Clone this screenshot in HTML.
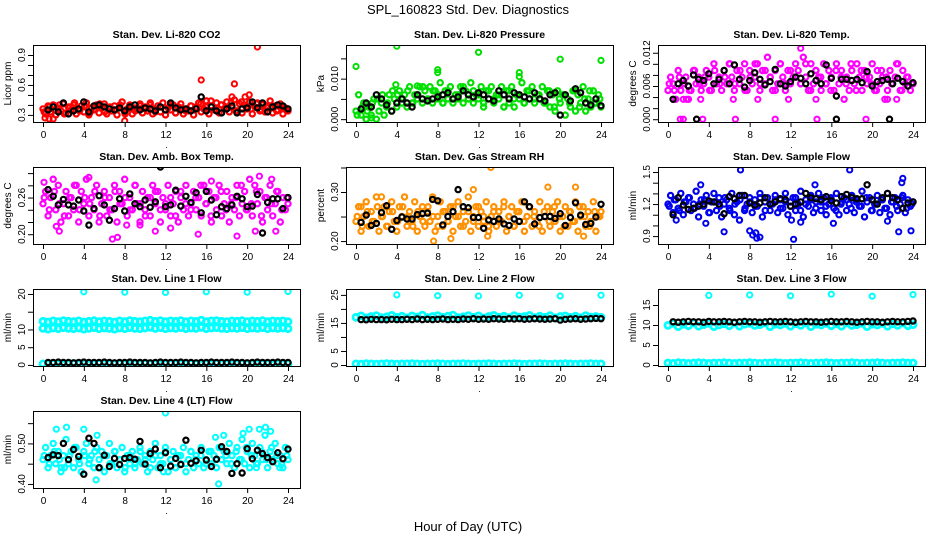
<!DOCTYPE html>
<html><head><meta charset="utf-8"><title>SPL_160823 Std. Dev. Diagnostics</title>
<style>
html,body{margin:0;padding:0;background:#fff;}
svg{display:block;font-family:"Liberation Sans",Arial,sans-serif;}
</style></head>
<body>
<svg id="chart" width="936" height="540" viewBox="0 0 936 540" xmlns="http://www.w3.org/2000/svg">
<text x="468" y="14" text-anchor="middle" font-size="13">SPL_160823  Std. Dev. Diagnostics</text>
<text x="468" y="531" text-anchor="middle" font-size="13">Hour of Day (UTC)</text>
</svg>
<script>
// ---------- data ----------
const xTicks = [0,4,8,12,16,20,24];

const co2Main = [0.36,0.31,0.39,0.33,0.40,0.30,0.37,0.34,0.41,0.32,0.38,0.35,0.40,0.31,0.36,0.39,0.33,0.42,0.30,0.37,0.35,0.40,0.32,0.38,0.41,0.31,0.36,0.34,0.39,0.30,0.38,0.43,0.33,0.36,0.40,0.31,0.37,0.35,0.41,0.32,0.38,0.34,0.40,0.31,0.36,0.39,0.33,0.42,0.30,0.37,0.35,0.40,0.32,0.38,0.41,0.31,0.36,0.34,0.39,0.30,0.38,0.42,0.33,0.36,0.44,0.31,0.39,0.35,0.42,0.32,0.40,0.36,0.43,0.33,0.38,0.45,0.34,0.41,0.32,0.40,0.36,0.43,0.31,0.38,0.42,0.34,0.40,0.33,0.37,0.44,0.32,0.39,0.35,0.41,0.31,0.37,0.34];
const co2Main2 = [0.33,0.38,0.35,0.40,0.31,0.37,0.42,0.34,0.39,0.32,0.36,0.41,0.33,0.38,0.35,0.40,0.31,0.37,0.34,0.39,0.36,0.42,0.33,0.38,0.35,0.40,0.32,0.37,0.34,0.39,0.36,0.41,0.38,0.44,0.35,0.40,0.37,0.42,0.34,0.43,0.38,0.36,0.41,0.35,0.39,0.37,0.34,0.38,0.36];
const co2OutHours = [0.2,0.6,1.0,8.0,15.5,18.5,18.75,20.2,21.0,19.8,16.0];
const co2OutValues = [0.27,0.26,0.26,0.24,0.65,0.48,0.61,0.50,0.98,0.48,0.44];
const co2Black = [0.35,0.38,0.33,0.42,0.31,0.34,0.36,0.43,0.33,0.39,0.40,0.38,0.36,0.35,0.37,0.34,0.38,0.40,0.35,0.37,0.36,0.34,0.38,0.35,0.42,0.37,0.35,0.36,0.34,0.36,0.48,0.34,0.38,0.34,0.32,0.36,0.39,0.32,0.36,0.37,0.43,0.37,0.42,0.33,0.38,0.40,0.39,0.36];

const presMain = [0.002,0.006,0.001,0.004,0.000,0.003,0.001,0.005,0.000,0.002,0.004,0.001,0.003,0.006,0.002,0.005,0.003,0.007,0.004,0.006,0.003,0.008,0.004,0.006,0.005,0.008,0.004,0.007,0.005,0.008,0.004,0.007,0.005,0.009,0.004,0.007,0.005,0.008,0.004,0.006,0.005,0.008,0.004,0.007,0.005,0.009,0.004,0.006,0.005,0.008,0.003,0.007,0.005,0.008,0.004,0.006,0.005,0.008,0.003,0.007,0.004,0.008,0.003,0.006,0.005,0.009,0.004,0.007,0.005,0.008,0.004,0.006,0.005,0.008,0.004,0.007,0.003,0.006,0.002,0.007,0.004,0.006,0.001,0.005,0.003,0.007,0.002,0.006,0.004,0.008,0.002,0.005,0.003,0.007,0.004,0.006,0.003];
const presMain2 = [0.001,0.003,0.002,0.004,0.005,0.006,0.004,0.007,0.006,0.005,0.007,0.004,0.006,0.008,0.005,0.007,0.006,0.004,0.007,0.005,0.006,0.008,0.005,0.007,0.006,0.004,0.007,0.005,0.006,0.003,0.007,0.005,0.006,0.004,0.007,0.005,0.006,0.004,0.007,0.003,0.005,0.006,0.004,0.007,0.003,0.005,0.007,0.004,0.005];
const presOutHours = [0,4,8,8,12,16,16,20,24,3.9,6,1.0,1.5];
const presOutValues = [0.013,0.018,0.0115,0.0122,0.0165,0.0105,0.0115,0.0148,0.0145,0.0085,0.0082,0.0000,0.0003];
const presBlack = [0.0025,0.004,0.003,0.006,0.005,0.0035,0.002,0.004,0.005,0.004,0.003,0.006,0.005,0.0045,0.005,0.0055,0.006,0.0065,0.005,0.0055,0.007,0.006,0.0055,0.0065,0.006,0.005,0.0045,0.007,0.006,0.005,0.0065,0.006,0.0055,0.005,0.0065,0.005,0.0045,0.006,0.0065,0.001,0.006,0.0045,0.0075,0.0065,0.004,0.0035,0.005,0.0033];

const tempMain = [0.0052,0.0076,0.0064,0.0036,0.0088,0.0052,0.0064,0.0076,0.0036,0.0052,0.0088,0.0064,0.0076,0.0052,0.0064,0.0088,0.0076,0.0052,0.0100,0.0064,0.0076,0.0052,0.0088,0.0064,0.0100,0.0076,0.0052,0.0088,0.0064,0.0076,0.0100,0.0052,0.0088,0.0064,0.0076,0.0100,0.0052,0.0088,0.0064,0.0112,0.0076,0.0052,0.0088,0.0064,0.0100,0.0076,0.0052,0.0088,0.0064,0.0076,0.0100,0.0088,0.0064,0.0112,0.0076,0.0052,0.0100,0.0064,0.0088,0.0076,0.0052,0.0100,0.0064,0.0088,0.0076,0.0052,0.0100,0.0064,0.0088,0.0036,0.0076,0.0052,0.0088,0.0064,0.0100,0.0076,0.0052,0.0088,0.0064,0.0076,0.0100,0.0052,0.0088,0.0064,0.0076,0.0036,0.0052,0.0088,0.0064,0.0076,0.0100,0.0052,0.0088,0.0064,0.0076,0.0052,0.0064];
const tempMain2 = [0.0064,0.0052,0.0076,0.0064,0.0052,0.0088,0.0064,0.0076,0.0052,0.0088,0.0064,0.0076,0.0100,0.0064,0.0088,0.0052,0.0076,0.0100,0.0064,0.0088,0.0076,0.0052,0.0100,0.0064,0.0088,0.0076,0.0064,0.0100,0.0052,0.0088,0.0076,0.0064,0.0052,0.0088,0.0076,0.0064,0.0100,0.0052,0.0088,0.0076,0.0064,0.0052,0.0088,0.0076,0.0064,0.0100,0.0052,0.0076,0.0064];
const tempOutHours = [1.2,1.5,3.4,6.6,10.5,14.6,19.4,1.5,1.8,3.2,6.4,8.8,11.8,14.5,21.5,22.4,13.0];
const tempOutValues = [0,0,0,0,0,0,0,0.0036,0.0036,0.0036,0.0036,0.0036,0.0036,0.0036,0.0036,0.0036,0.0128];
const tempBlack = [0.0036,0.0064,0.0070,0.0060,0.0080,0.0072,0.0070,0.0082,0.0064,0.0072,0.0088,0.0064,0.0098,0.0072,0.0058,0.0070,0.0084,0.0072,0.0062,0.0068,0.0090,0.0064,0.0060,0.0068,0.0076,0.0074,0.0064,0.0082,0.0070,0.0064,0.0098,0.0074,0.0042,0.0072,0.0072,0.0070,0.0072,0.0066,0.0086,0.0060,0.0068,0.0070,0.0072,0.0064,0.0074,0.0068,0.0060,0.0066];
const tempBlackOutHours = [2.8,16.5,21.7];
const tempBlackOutValues = [0,0,0];

const boxMain = [0.25,0.27,0.23,0.26,0.29,0.24,0.28,0.22,0.25,0.27,0.23,0.26,0.24,0.28,0.22,0.27,0.25,0.29,0.23,0.26,0.24,0.28,0.22,0.25,0.27,0.23,0.26,0.24,0.28,0.22,0.27,0.25,0.29,0.23,0.26,0.24,0.28,0.25,0.22,0.27,0.24,0.26,0.23,0.28,0.25,0.27,0.22,0.26,0.24,0.28,0.23,0.25,0.27,0.22,0.26,0.24,0.28,0.23,0.25,0.27,0.24,0.26,0.23,0.28,0.25,0.27,0.22,0.26,0.24,0.28,0.23,0.25,0.27,0.22,0.26,0.24,0.28,0.23,0.25,0.27,0.24,0.29,0.23,0.28,0.25,0.27,0.22,0.26,0.24,0.28,0.23,0.25,0.27,0.22,0.26,0.24,0.25];
const boxMain2 = [0.26,0.24,0.27,0.25,0.23,0.26,0.28,0.24,0.26,0.25,0.27,0.23,0.26,0.24,0.27,0.25,0.26,0.24,0.28,0.25,0.23,0.26,0.27,0.24,0.25,0.26,0.23,0.27,0.25,0.24,0.26,0.28,0.25,0.23,0.26,0.27,0.24,0.25,0.26,0.28,0.24,0.25,0.27,0.23,0.26,0.25,0.27,0.24,0.26];
const boxOutHours = [0.1,1.3,1.6,6.8,7.3,4.5,11,15.2,16.5,19,20.8,21.2,22.4,22.8,8.2,9.5,12.5];
const boxOutValues = [0.285,0.213,0.205,0.192,0.195,0.293,0.205,0.200,0.287,0.197,0.205,0.295,0.290,0.205,0.215,0.215,0.210];
const boxBlack = [0.273,0.262,0.248,0.257,0.248,0.246,0.256,0.238,0.215,0.242,0.263,0.248,0.223,0.242,0.258,0.238,0.266,0.250,0.245,0.256,0.244,0.253,0.310,0.245,0.248,0.272,0.246,0.262,0.252,0.268,0.235,0.270,0.256,0.232,0.245,0.242,0.248,0.262,0.258,0.245,0.246,0.265,0.202,0.252,0.258,0.258,0.242,0.260];

const rhMain = [0.24,0.27,0.22,0.25,0.28,0.23,0.26,0.24,0.29,0.22,0.25,0.27,0.23,0.26,0.28,0.24,0.22,0.27,0.25,0.29,0.23,0.26,0.24,0.28,0.22,0.25,0.27,0.23,0.26,0.24,0.29,0.22,0.25,0.28,0.23,0.26,0.24,0.27,0.22,0.25,0.28,0.23,0.26,0.24,0.29,0.22,0.25,0.27,0.23,0.26,0.24,0.28,0.22,0.25,0.27,0.23,0.26,0.24,0.28,0.22,0.25,0.27,0.23,0.26,0.24,0.28,0.22,0.25,0.27,0.23,0.26,0.24,0.28,0.22,0.25,0.27,0.23,0.26,0.24,0.28,0.22,0.25,0.27,0.23,0.26,0.24,0.28,0.22,0.25,0.27,0.23,0.26,0.24,0.28,0.22,0.25,0.26];
const rhMain2 = [0.25,0.23,0.26,0.24,0.27,0.25,0.23,0.26,0.24,0.27,0.25,0.23,0.26,0.24,0.27,0.25,0.23,0.26,0.24,0.27,0.25,0.23,0.26,0.24,0.27,0.25,0.23,0.26,0.24,0.27,0.25,0.23,0.26,0.24,0.27,0.25,0.23,0.26,0.24,0.27,0.25,0.23,0.26,0.24,0.27,0.25,0.23,0.26,0.25];
const rhOutHours = [13.2,11.5,18.8,21.5,7.6,9.3,12.9,22.3,0.5,2.5];
const rhOutValues = [0.35,0.305,0.31,0.31,0.20,0.205,0.21,0.21,0.27,0.29];
const rhBlack = [0.238,0.253,0.232,0.236,0.258,0.272,0.224,0.242,0.249,0.245,0.245,0.254,0.256,0.257,0.285,0.282,0.233,0.250,0.260,0.305,0.270,0.268,0.248,0.248,0.226,0.243,0.240,0.245,0.235,0.232,0.245,0.240,0.280,0.270,0.235,0.248,0.250,0.250,0.246,0.256,0.232,0.248,0.278,0.253,0.234,0.236,0.249,0.275];

const flowMain = [1.20,1.28,1.12,1.24,1.16,1.30,1.10,1.22,1.26,1.14,1.20,1.32,1.08,1.24,1.18,1.28,1.12,1.22,1.30,1.14,1.26,1.08,1.20,1.24,1.16,1.30,1.10,1.22,1.05,1.28,1.14,1.20,1.26,1.12,1.24,1.18,1.30,1.08,1.22,1.26,1.14,1.20,1.28,1.12,1.24,1.16,1.30,1.10,1.22,1.26,1.14,1.20,1.32,1.08,1.24,1.18,1.28,1.12,1.22,1.30,1.14,1.26,1.10,1.20,1.24,1.16,1.30,1.10,1.22,1.26,1.14,1.20,1.28,1.12,1.24,1.18,1.32,1.08,1.22,1.26,1.14,1.20,1.28,1.12,1.24,1.16,1.30,1.10,1.22,1.26,1.14,1.20,1.28,1.12,1.24,1.18,1.22];
const flowMain2 = [1.18,1.24,1.14,1.22,1.26,1.16,1.20,1.24,1.12,1.22,1.18,1.26,1.14,1.20,1.24,1.16,1.22,1.18,1.26,1.14,1.20,1.24,1.16,1.22,1.18,1.26,1.14,1.20,1.24,1.16,1.22,1.18,1.26,1.14,1.20,1.24,1.16,1.22,1.18,1.26,1.14,1.20,1.24,1.16,1.22,1.18,1.26,1.16,1.20];
const flowOutHours = [0.8,3.2,3.7,5.5,7.1,8,8.3,8.6,9,8.7,12.3,12.1,13,14.4,16.2,17.8,21.5,22.6,23.3,23,22.9,23.8];
const flowOutValues = [1.05,1.38,1.02,0.94,1.52,0.95,0.91,0.93,0.89,0.88,0.87,1.05,1.03,1.38,1.02,1.52,1.04,0.94,1.58,1.44,1.40,0.95];
const flowBlack = [1.10,1.26,1.19,1.15,1.16,1.18,1.20,1.23,1.22,1.20,1.11,1.27,1.25,1.28,1.28,1.21,1.19,1.21,1.26,1.20,1.22,1.25,1.24,1.18,1.20,1.22,1.30,1.26,1.25,1.24,1.27,1.23,1.21,1.27,1.29,1.26,1.25,1.25,1.38,1.24,1.20,1.26,1.30,1.26,1.24,1.16,1.21,1.22];

const line1High = [12.3,12.1,12.4,12.2,12.5,12.3,12.2,12.4,12.1,12.3,12.5,12.2,12.4,12.3,12.1,12.4,12.2,12.5,12.3,12.2,12.4,12.6,12.3,12.5,12.2,12.4,12.3,12.5,12.2,12.4,12.3,12.6,12.2,12.4,12.5,12.3,12.2,12.4,12.3,12.5,12.2,12.4,12.3,12.5,12.2,12.4,12.3,12.4,12.2];
const line1Mid = [10.3,10.1,10.4,10.2,10.5,10.3,10.2,10.4,10.1,10.3,10.5,10.2,10.4,10.3,10.1,10.4,10.2,10.5,10.3,10.2,10.4,10.6,10.3,10.5,10.2,10.4,10.3,10.5,10.2,10.4,10.3,10.6,10.2,10.4,10.5,10.3,10.2,10.4,10.3,10.5,10.2,10.4,10.3,10.5,10.2,10.4,10.3,10.4,10.2];
const line1Low = [0.3,0.3,0.4,0.3,0.2,0.3,0.4,0.3,0.3,0.2,0.3,0.4,0.3,0.3,0.3,0.4,0.3,0.2,0.3,0.3,0.4,0.3,0.3,0.2,0.3,0.4,0.3,0.3,0.3,0.4,0.3,0.2,0.3,0.3,0.4,0.3,0.3,0.2,0.3,0.4,0.3,0.3,0.3,0.4,0.3,0.2,0.3,0.3,0.3];
const line1OutHours = [4,8,12,16,20,24];
const line1OutValues = [20.6,20.5,20.4,20.6,20.5,20.7];
const line1Black = [0.7,0.7,0.8,0.7,0.7,0.6,0.7,0.8,0.7,0.7,0.7,0.8,0.7,0.6,0.7,0.7,0.8,0.7,0.7,0.7,0.6,0.7,0.8,0.7,0.7,0.7,0.8,0.7,0.7,0.6,0.7,0.7,0.8,0.7,0.7,0.7,0.8,0.7,0.7,0.6,0.7,0.8,0.7,0.7,0.7,0.8,0.7,0.7];

const line2High = [17.0,17.5,16.8,17.3,17.6,16.9,17.2,17.7,17.0,17.4,16.8,17.5,17.1,17.8,16.9,17.3,17.6,17.0,17.4,17.8,16.9,17.2,17.6,17.0,17.5,16.8,17.3,17.7,17.0,17.4,16.9,17.6,17.1,17.3,17.7,16.9,17.4,17.0,17.6,16.8,17.3,17.5,17.0,17.4,16.9,17.6,17.1,17.3,17.0];
const line2Low = [0.4,0.3,0.5,0.4,0.3,0.4,0.5,0.4,0.3,0.4,0.4,0.5,0.4,0.3,0.4,0.4,0.5,0.4,0.3,0.4,0.4,0.5,0.4,0.3,0.4,0.4,0.5,0.4,0.3,0.4,0.4,0.5,0.4,0.3,0.4,0.4,0.5,0.4,0.3,0.4,0.4,0.5,0.4,0.3,0.4,0.4,0.5,0.4,0.4];
const line2OutHours = [4,8,12,16,20,24];
const line2OutValues = [25.0,24.7,24.6,24.9,24.6,24.9];
const line2Black = [16.2,16.1,16.3,16.2,16.2,16.1,16.3,16.2,16.2,16.3,16.2,16.4,16.2,16.3,16.2,16.3,16.4,16.2,16.3,16.2,16.4,16.3,16.5,16.3,16.4,16.3,16.5,16.4,16.3,16.5,16.4,16.5,16.3,16.4,16.5,16.4,16.3,16.4,16.5,16.0,16.3,16.4,16.5,16.3,16.4,16.5,16.6,16.5];

const line3High = [9.9,10.4,9.6,10.2,9.8,10.5,9.7,10.1,10.4,9.6,10.0,10.3,9.8,10.5,9.7,10.2,10.4,9.9,10.1,10.5,9.6,10.2,10.0,10.4,9.7,10.3,9.9,10.5,9.6,10.2,10.0,10.4,9.8,10.3,9.7,10.5,9.9,10.1,10.4,9.6,10.2,10.0,10.4,9.7,10.3,9.9,10.5,9.8,10.1];
const line3Low = [0.5,0.4,0.6,0.5,0.4,0.5,0.6,0.5,0.4,0.5,0.5,0.6,0.5,0.4,0.5,0.5,0.6,0.5,0.4,0.5,0.5,0.6,0.5,0.4,0.5,0.5,0.6,0.5,0.4,0.5,0.5,0.6,0.5,0.4,0.5,0.5,0.6,0.5,0.4,0.5,0.5,0.6,0.5,0.4,0.5,0.5,0.6,0.5,0.5];
const line3OutHours = [4,8,12,16,20,24];
const line3OutValues = [17.4,17.5,17.3,17.7,17.2,17.6];
const line3Black = [10.8,10.7,10.8,10.9,10.8,10.8,10.7,10.9,10.8,10.8,10.9,10.8,10.7,10.8,10.9,10.8,10.8,10.7,10.8,10.9,10.8,10.8,10.9,10.8,10.7,10.8,10.9,10.8,10.8,10.7,10.8,10.9,10.8,10.8,10.9,10.8,10.7,10.8,10.9,10.8,10.8,10.7,10.8,10.9,10.8,10.8,10.9,11.0];

const line4Main = [0.46,0.49,0.44,0.47,0.50,0.45,0.48,0.43,0.47,0.51,0.45,0.48,0.44,0.49,0.46,0.43,0.48,0.50,0.45,0.47,0.44,0.49,0.46,0.48,0.43,0.47,0.50,0.45,0.48,0.44,0.46,0.49,0.43,0.47,0.45,0.48,0.44,0.46,0.49,0.45,0.47,0.43,0.48,0.46,0.50,0.44,0.47,0.45,0.49,0.43,0.46,0.48,0.44,0.47,0.45,0.49,0.43,0.46,0.48,0.44,0.47,0.45,0.49,0.44,0.46,0.48,0.45,0.47,0.44,0.49,0.46,0.48,0.45,0.50,0.47,0.44,0.49,0.46,0.51,0.45,0.48,0.44,0.50,0.47,0.45,0.49,0.46,0.52,0.44,0.48,0.46,0.50,0.45,0.47,0.44,0.49,0.46];
const line4Main2 = [0.47,0.45,0.48,0.46,0.44,0.47,0.49,0.45,0.47,0.46,0.48,0.44,0.47,0.45,0.48,0.46,0.44,0.47,0.45,0.48,0.46,0.44,0.47,0.45,0.48,0.46,0.44,0.47,0.45,0.48,0.46,0.47,0.45,0.48,0.46,0.49,0.47,0.45,0.48,0.46,0.49,0.47,0.45,0.48,0.46,0.49,0.47,0.45,0.47];
const line4OutHours = [1.3,2.3,4,5.3,5.2,1.8,12,11.8,17.2,17.7,16.9,20.2,19.6,21.2,21.8,20.9,23.2,22.3];
const line4OutValues = [0.535,0.54,0.535,0.52,0.41,0.44,0.575,0.43,0.40,0.52,0.515,0.535,0.525,0.535,0.54,0.44,0.44,0.53];
const line4Black = [0.465,0.472,0.47,0.50,0.46,0.485,0.468,0.424,0.513,0.50,0.44,0.471,0.443,0.463,0.448,0.463,0.465,0.461,0.505,0.449,0.475,0.486,0.44,0.477,0.444,0.463,0.448,0.508,0.451,0.457,0.483,0.459,0.443,0.461,0.492,0.48,0.426,0.45,0.427,0.487,0.462,0.483,0.475,0.465,0.455,0.477,0.462,0.486];

const co2Ticks = [0.3,0.4,0.5,0.6,0.7,0.8,0.9];      const co2Labels = ["0.3","0.6","0.9"];
const presTicks = [0,0.005,0.010,0.015];               const presLabels = ["0.000","0.010"];
const tempTicks = [0,0.002,0.004,0.006,0.008,0.010,0.012]; const tempLabels = ["0.000","0.006","0.012"];
const boxTicks = [0.20,0.22,0.24,0.26,0.28,0.30];      const boxLabels = ["0.20","0.26"];
const rhTicks = [0.20,0.25,0.30,0.35];                 const rhLabels = ["0.20","0.30"];
const flowTicks = [0.9,1.0,1.1,1.2,1.3,1.4,1.5];       const flowLabels = ["0.9","1.2","1.5"];
const line1Ticks = [0,5,10,15,20];                     const line1Labels = ["0","5","10","20"];
const line2Ticks = [0,5,10,15,20,25];                  const line2Labels = ["0","5","15","25"];
const line3Ticks = [0,5,10,15];                        const line3Labels = ["0","5","10","15"];
const line4Ticks = [0.40,0.45,0.50,0.55];              const line4Labels = ["0.40","0.50"];

// ---------- rendering ----------
const NS = "http://www.w3.org/2000/svg";
const svg = document.getElementById("chart");
const colLeft = [33,346,658], rowTop = [45,167,289,411], PW = 267, PH = 77;

const panels = [
 {slug:"co2",title:"Stan. Dev. Li-820 CO2",ylab:"Licor ppm",col:0,row:0,ylim:[0.229,1.0],ticks:co2Ticks,labels:co2Labels,c:"#ff0000",
  mains:[[co2Main,0],[co2Main2,0.12]],outs:[co2OutHours,co2OutValues],black:co2Black},
 {slug:"pressure",title:"Stan. Dev. Li-820 Pressure",ylab:"kPa",col:1,row:0,ylim:[-0.0007,0.0183],ticks:presTicks,labels:presLabels,c:"#00e000",
  mains:[[presMain,0],[presMain2,0.12]],outs:[presOutHours,presOutValues],black:presBlack},
 {slug:"li820-temp",title:"Stan. Dev. Li-820 Temp.",ylab:"degrees C",col:2,row:0,ylim:[-0.0005,0.0134],ticks:tempTicks,labels:tempLabels,c:"#ff00ff",
  mains:[[tempMain,0],[tempMain2,0.12]],outs:[tempOutHours,tempOutValues],black:tempBlack,blackExtra:[tempBlackOutHours,tempBlackOutValues]},
 {slug:"box-temp",title:"Stan. Dev. Amb. Box Temp.",ylab:"degrees C",col:0,row:1,ylim:[0.184,0.31],ticks:boxTicks,labels:boxLabels,c:"#ff00ff",
  mains:[[boxMain,0],[boxMain2,0.12]],outs:[boxOutHours,boxOutValues],black:boxBlack},
 {slug:"gas-rh",title:"Stan. Dev. Gas Stream RH",ylab:"percent",col:1,row:1,ylim:[0.194,0.351],ticks:rhTicks,labels:rhLabels,c:"#ff9000",
  mains:[[rhMain,0],[rhMain2,0.12]],outs:[rhOutHours,rhOutValues],black:rhBlack},
 {slug:"sample-flow",title:"Stan. Dev. Sample Flow",ylab:"ml/min",col:2,row:1,ylim:[0.826,1.547],ticks:flowTicks,labels:flowLabels,c:"#0000ee",
  mains:[[flowMain,0],[flowMain2,0.12]],outs:[flowOutHours,flowOutValues],black:flowBlack},
 {slug:"line1",title:"Stan. Dev. Line 1 Flow",ylab:"ml/min",col:0,row:2,ylim:[-0.3,21.4],ticks:line1Ticks,labels:line1Labels,c:"#00ffff",thick:true,
  mains:[[line1High,0],[line1Mid,0],[line1Low,0]],outs:[line1OutHours,line1OutValues],black:line1Black},
 {slug:"line2",title:"Stan. Dev. Line 2 Flow",ylab:"ml/min",col:1,row:2,ylim:[-0.36,27.1],ticks:line2Ticks,labels:line2Labels,c:"#00ffff",thick:true,
  mains:[[line2High,0],[line2Low,0]],outs:[line2OutHours,line2OutValues],black:line2Black},
 {slug:"line3",title:"Stan. Dev. Line 3 Flow",ylab:"ml/min",col:2,row:2,ylim:[-0.25,19],ticks:line3Ticks,labels:line3Labels,c:"#00ffff",thick:true,
  mains:[[line3High,0],[line3Low,0]],outs:[line3OutHours,line3OutValues],black:line3Black},
 {slug:"line4",title:"Stan. Dev. Line 4 (LT) Flow",ylab:"ml/min",col:0,row:3,ylim:[0.39,0.58],ticks:line4Ticks,labels:line4Labels,c:"#00ffff",
  mains:[[line4Main,0],[line4Main2,0.12]],outs:[line4OutHours,line4OutValues],black:line4Black}
];

function mk(tag, attrs, parent){
  const e = document.createElementNS(NS, tag);
  for (const k in attrs) e.setAttribute(k, attrs[k]);
  (parent||svg).appendChild(e);
  return e;
}

panels.forEach(p => {
  const L = colLeft[p.col], T = rowTop[p.row], B = T + PH, R = L + PW;
  const xs = h => L + 10 + h * 245 / 24;
  const ys = v => B - (v - p.ylim[0]) / (p.ylim[1] - p.ylim[0]) * PH;

  const g = mk("g", {});
  
  

  const clip = mk("clipPath", {id:"clip-"+p.slug}, g);
  mk("rect", {x:L, y:T, width:PW, height:PH}, clip);
  const pts = mk("g", {"clip-path":"url(#clip-"+p.slug+")", fill:"none"}, g);
  
  

  function dot(h, v, color, w, r){
    const c = mk("circle", {cx:xs(h).toFixed(1), cy:ys(v).toFixed(1), r:r, stroke:color, "stroke-width":w}, pts);
    
    
  }
  const cw = p.thick ? 2.8 : 2.2, cr = p.thick ? 3 : 2.6;
  p.mains.forEach(m => {
    const vals = m[0], off = m[1], n = vals.length;
    vals.forEach((v, i) => dot(off + i * (24 - 2 * off) / (n - 1), v, p.c, cw, cr));
  });
  p.outs[0].forEach((h, i) => dot(h, p.outs[1][i], p.c, 2, 2.6));
  const nb = p.black.length;
  p.black.forEach((v, i) => dot(0.5 + i * 23.5 / (nb - 1), v, "#000", 2.2, 2.6));
  if (p.blackExtra) p.blackExtra[0].forEach((h, i) => dot(h, p.blackExtra[1][i], "#000", 2.2, 2.6));

  const box = mk("rect", {x:L+0.5, y:T+0.5, width:PW, height:PH, fill:"none", stroke:"#000", "stroke-width":1}, g);
  
  

  const t = mk("text", {x:(L+R)/2, y:T-7, "text-anchor":"middle", "font-size":"10.5", "font-weight":"bold"}, g);
  t.textContent = p.title;
  
  

  const xa = mk("g", {stroke:"#000"}, g);
  
  
  mk("line", {x1:xs(0), x2:xs(24), y1:B+0.5, y2:B+0.5}, xa);
  xTicks.forEach(h => {
    mk("line", {x1:xs(h)+0.5, x2:xs(h)+0.5, y1:B, y2:B+5}, xa);
    const tl = mk("text", {x:xs(h)+0.5, y:B+16, "text-anchor":"middle", "font-size":"10", stroke:"none"}, xa);
    tl.textContent = h;
    
    
  });
  const dt = mk("text", {x:(L+R)/2, y:B+26, "text-anchor":"middle", "font-size":"9", stroke:"none"}, xa);
  dt.textContent = ".";

  const ya = mk("g", {stroke:"#000"}, g);
  
  
  mk("line", {x1:L+0.5, x2:L+0.5, y1:ys(p.ticks[0]), y2:ys(p.ticks[p.ticks.length-1])}, ya);
  p.ticks.forEach(v => {
    mk("line", {x1:L-5, x2:L, y1:ys(v)+0.5, y2:ys(v)+0.5}, ya);
  });
  p.labels.forEach(s => {
    const y = ys(parseFloat(s));
    const tl = mk("text", {x:0, y:0, transform:"translate("+(L-8)+","+y.toFixed(1)+") rotate(-90)", "text-anchor":"middle", "font-size":"10", stroke:"none"}, ya);
    tl.textContent = s;
    
    
  });
  const yl = mk("text", {x:0, y:0, transform:"translate("+(L-22)+","+(T+PH/2)+") rotate(-90)", "text-anchor":"middle", "font-size":"10"}, g);
  yl.textContent = p.ylab;
  
  
});
</script>
</body></html>
